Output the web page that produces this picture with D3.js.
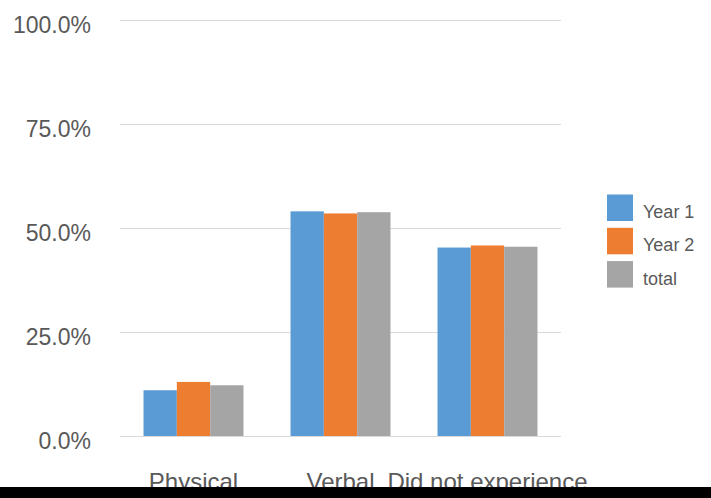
<!DOCTYPE html>
<html>
<head>
<meta charset="utf-8">
<script src="https://cdn.jsdelivr.net/npm/d3@7"></script>
<style>
  html, body { margin: 0; padding: 0; background: #fff; }
  svg { display: block; font-family: "Liberation Sans", Arial, sans-serif; }
</style>
</head>
<body>
<div id="chart"></div>
<script>
const categories = ["Physical", "Verbal", "Did not experience"];
const seriesNames = ["Year 1", "Year 2", "total"];
const year1 = [0.110, 0.540, 0.453];
const year2 = [0.130, 0.535, 0.458];
const total = [0.122, 0.538, 0.455];
const colors = ["#5B9BD5", "#ED7D31", "#A5A5A5"];
const yTicks = [0, 0.25, 0.5, 0.75, 1.0];

const W = 711, H = 498;
const svg = d3.select("#chart").append("svg").attr("width", W).attr("height", H);

const seriesValues = [year1, year2, total];
const data = categories.map((c, i) => ({
  cat: c,
  vals: seriesNames.map((s, j) => ({ key: s, value: seriesValues[j][i], color: colors[j] }))
}));

const x0 = d3.scaleBand().domain(categories).range([120, 561]).paddingInner(0.32).paddingOuter(0.16);
const x1 = d3.scaleBand().domain(seriesNames).range([0, x0.bandwidth()]).padding(0);
const y = d3.scaleLinear().domain([0, 1]).range([436, 20]);

// gridlines
const yAxis = d3.axisLeft(y).tickValues(yTicks).tickSize(-(561 - 120)).tickFormat(d3.format(".1%"));
const gy = svg.append("g").attr("transform", "translate(120,0)").call(yAxis);
gy.select(".domain").remove();
gy.selectAll(".tick line").attr("stroke", "#D9D9D9").attr("stroke-width", 1);
gy.selectAll(".tick text")
  .attr("x", -29)
  .attr("dy", "12.5px")
  .attr("fill", "#595959")
  .style("font-size", "23px")
  .style("font-family", "Liberation Sans, Arial, sans-serif");

// bars
const groups = svg.append("g").selectAll("g").data(data).join("g")
  .attr("transform", d => `translate(${x0(d.cat)},0)`);
groups.selectAll("rect").data(d => d.vals).join("rect")
  .attr("x", d => x1(d.key))
  .attr("width", x1.bandwidth())
  .attr("y", d => y(d.value))
  .attr("height", d => y(0) - y(d.value))
  .attr("fill", d => d.color);

// category labels
const xAxis = d3.axisBottom(x0).tickSize(0);
const gx = svg.append("g").attr("transform", "translate(0,436)").call(xAxis);
gx.select(".domain").remove();
gx.selectAll(".tick text")
  .attr("y", 54)
  .attr("dy", 0)
  .attr("fill", "#595959")
  .style("font-size", "24px")
  .style("font-family", "Liberation Sans, Arial, sans-serif");

// legend
const legend = svg.append("g").attr("transform", "translate(607,194.5)");
const li = legend.selectAll("g").data(seriesNames).join("g")
  .attr("transform", (d, i) => `translate(0,${i * 33.3})`);
li.append("rect").attr("width", 26).attr("height", 26.5).attr("fill", (d, i) => colors[i]);
li.append("text").attr("x", 36).attr("y", 23.5)
  .attr("fill", "#595959")
  .style("font-size", "18px")
  .text(d => d);

// bottom black band
svg.append("rect").attr("x", 0).attr("y", 487).attr("width", W).attr("height", H - 487).attr("fill", "#000");
</script>
</body>
</html>
